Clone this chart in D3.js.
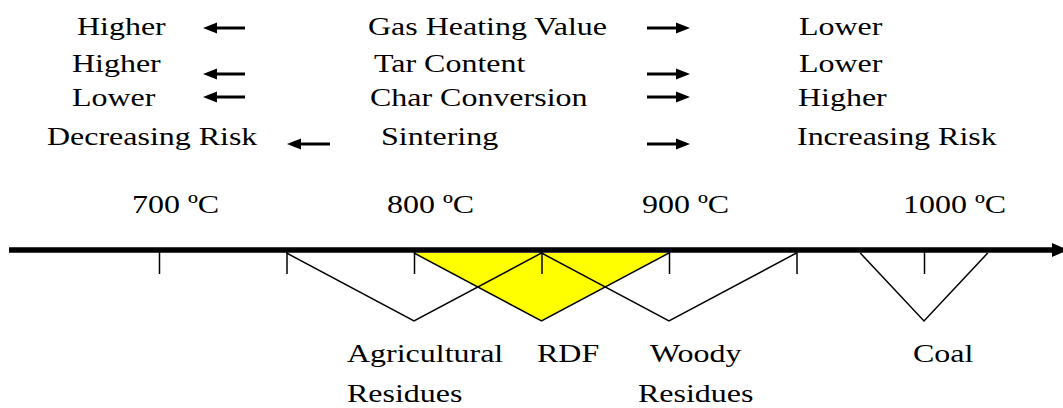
<!DOCTYPE html>
<html>
<head>
<meta charset="utf-8">
<script src="https://cdn.jsdelivr.net/npm/d3@7"></script>
<style>
  body { margin: 0; background: #fff; }
  svg text { font-family: "Liberation Serif", "Times New Roman", Times, "DejaVu Serif", serif; font-size: 26px; fill: #000; }
</style>
</head>
<body>
<div id="chart"></div>
<script>
// data
var properties = ['Gas Heating Value', 'Tar Content', 'Char Conversion', 'Sintering'];
var lowTempEffect = ['Higher', 'Higher', 'Lower', 'Decreasing Risk'];
var highTempEffect = ['Lower', 'Lower', 'Higher', 'Increasing Risk'];

var tempTicks = [700, 750, 800, 850, 900, 950, 1000];
var tempLabels = [700, 800, 900, 1000];

var feedstocks = ['RDF', 'Agricultural Residues', 'Woody Residues', 'Coal'];
var feedMin = [800, 750, 850, 975];
var feedOpt = [850, 800, 900, 1000];
var feedMax = [900, 850, 950, 1025];

// layout (pixels)
var width = 1063, height = 408;
var axisY = 250, triTop = 253, triBottom = 321;
var sx = 1.23; // text in the source is stretched horizontally

// left x, baseline y for each row
var rowLayout = [
  {left: 77, mid: 368, right: 799, y: 35, arrowY: 28, la: [203, 245], ra: [647, 690]},
  {left: 72, mid: 374, right: 799, y: 72, arrowY: 74, la: [203, 245], ra: [647, 690]},
  {left: 72, mid: 370, right: 798, y: 106, arrowY: 97, la: [203, 245], ra: [647, 690]},
  {left: 47, mid: 381, right: 797, y: 145, arrowY: 144, la: [287, 330], ra: [647, 690]}
];
var labelLayout = {
  'Agricultural Residues': {x: 347, lines: ['Agricultural', 'Residues']},
  'RDF': {x: 537, lines: ['RDF']},
  'Woody Residues': {x: 650, lines: ['Woody', 'Residues'], x2: 638},
  'Coal': {x: 913, lines: ['Coal']}
};

var svg = d3.select('#chart').append('svg')
    .attr('width', width)
    .attr('height', height);

var x = d3.scaleLinear().domain([700, 1000]).range([159, 924]);

function stretchedText(parent, str, px, py) {
  parent.append('g')
      .attr('transform', 'translate(' + px + ',' + py + ') scale(' + sx + ',1)')
    .append('text')
      .attr('font-family', 'Liberation Serif')
      .attr('font-size', 26)
      .text(str);
}

function arrow(parent, x1, x2, y) {
  // x1 = tail, x2 = head tip
  var dir = x2 > x1 ? 1 : -1;
  var headLen = 14, halfW = 5.5;
  parent.append('line')
      .attr('x1', x1).attr('x2', x2 - dir * headLen + dir * 2)
      .attr('y1', y).attr('y2', y)
      .style('stroke', '#000')
      .style('stroke-width', 3);
  parent.append('path')
      .attr('d', 'M' + x2 + ',' + y +
                 'L' + (x2 - dir * headLen) + ',' + (y - halfW) +
                 'L' + (x2 - dir * headLen) + ',' + (y + halfW) + 'Z')
      .style('fill', '#000');
}

// header rows
var header = svg.append('g');
properties.forEach(function(p, i) {
  var r = rowLayout[i];
  stretchedText(header, lowTempEffect[i], r.left, r.y);
  stretchedText(header, p, r.mid, r.y);
  stretchedText(header, highTempEffect[i], r.right, r.y);
  arrow(header, r.la[1], r.la[0], r.arrowY);
  arrow(header, r.ra[0], r.ra[1], r.arrowY);
});

// temperature labels
tempLabels.forEach(function(t) {
  stretchedText(svg, t + ' ºC', x(t) - 27 + (t >= 1000 ? 6 : 0), 213);
});

// feedstock triangles
var order = d3.range(feedstocks.length);
svg.append('g').selectAll('path')
    .data(order)
  .enter().append('path')
    .attr('d', function(i) {
      return 'M' + x(feedMin[i]) + ',' + triTop +
             'L' + x(feedOpt[i]) + ',' + triBottom +
             'L' + x(feedMax[i]) + ',' + triTop;
    })
    .style('fill', function(i) { return feedstocks[i] === 'RDF' ? '#ffff00' : 'none'; })
    .style('stroke', '#000')
    .style('stroke-width', 1.5);

// ticks via d3 axis
var axis = svg.append('g')
    .attr('transform', 'translate(0,' + (axisY + 2) + ')')
    .call(d3.axisBottom(x).tickValues(tempTicks).tickSize(22).tickFormat(''));
axis.select('.domain').remove();
axis.selectAll('.tick line').style('stroke', '#000').style('stroke-width', 1.5);

// main axis line with arrow
svg.append('line')
    .attr('x1', 9).attr('x2', 1056)
    .attr('y1', axisY).attr('y2', axisY)
    .style('stroke', '#000')
    .style('stroke-width', 5.5);
svg.append('path')
    .attr('d', 'M1052,' + (axisY - 7) + 'L1068,' + axisY + 'L1052,' + (axisY + 7) + 'Z')
    .style('fill', '#000');

// feedstock labels
feedstocks.forEach(function(f) {
  var l = labelLayout[f];
  l.lines.forEach(function(line, j) {
    var lx = (j > 0 && l.x2 !== undefined) ? l.x2 : l.x;
    stretchedText(svg, line, lx, 362 + j * 40);
  });
});
</script>
</body>
</html>
